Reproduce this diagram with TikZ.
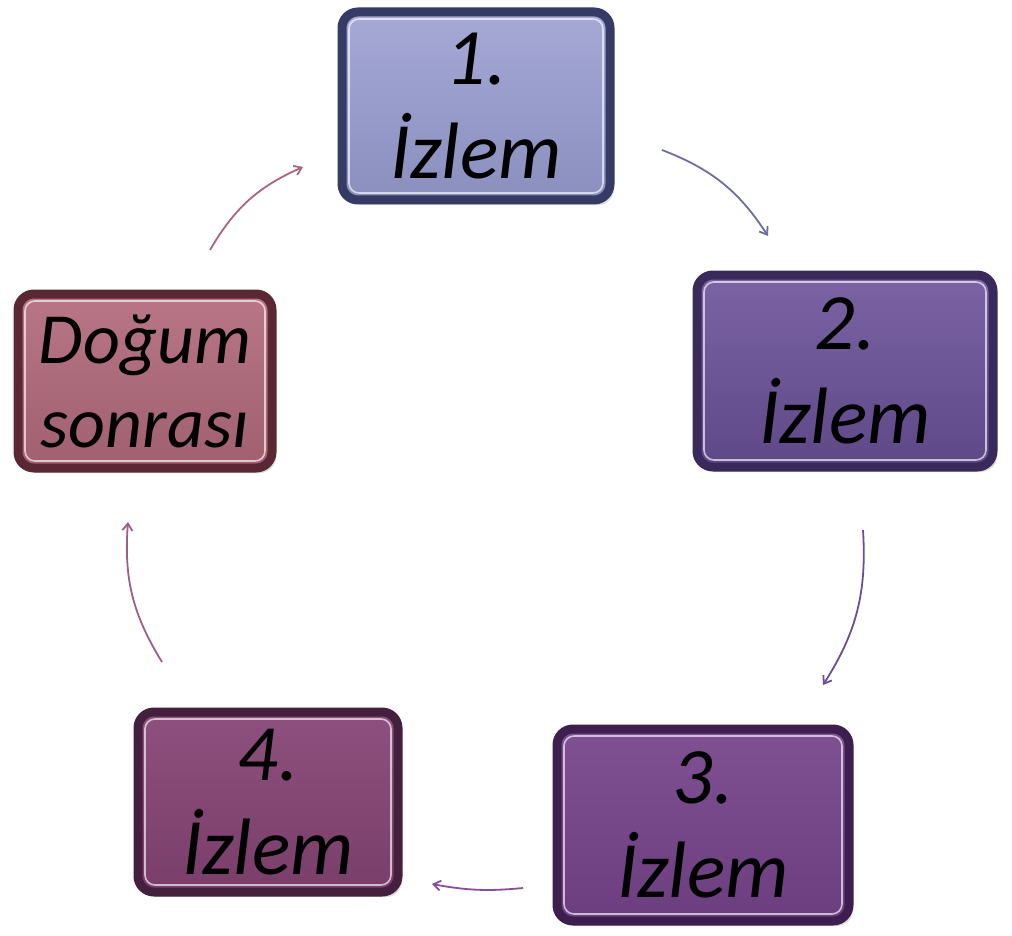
\documentclass[tikz,border=0pt]{standalone}
\usepackage{fontspec}
\setmainfont{Carlito}
\usetikzlibrary{arrows.meta,shadows}
\definecolor{fA}{HTML}{A6A9D6}\definecolor{gA}{HTML}{8A8FBE}\definecolor{dA}{HTML}{363B66}
\definecolor{fB}{HTML}{7C64A4}\definecolor{gB}{HTML}{5E4888}\definecolor{dB}{HTML}{3A2A5C}
\definecolor{fC}{HTML}{7F5092}\definecolor{gC}{HTML}{6C3E80}\definecolor{dC}{HTML}{3C1F4E}
\definecolor{fD}{HTML}{8E507E}\definecolor{gD}{HTML}{7A3E6A}\definecolor{dD}{HTML}{44203E}
\definecolor{fE}{HTML}{B87686}\definecolor{gE}{HTML}{A0606F}\definecolor{dE}{HTML}{5A2834}
\definecolor{aA}{HTML}{6A6EA2}\definecolor{aB}{HTML}{6A4E9C}\definecolor{aC}{HTML}{8A4C9C}
\definecolor{aD}{HTML}{9A6086}\definecolor{aE}{HTML}{A86676}
\tikzset{
  bevel/.style={rounded corners=16pt, line width=9pt, inner sep=0pt, align=center,
    font=\itshape\fontsize{80}{94}\selectfont,
    drop shadow={shadow xshift=4pt, shadow yshift=-5pt, opacity=0.25},
    path picture={\draw[white, opacity=0.65, line width=1.6pt, rounded corners=10pt]
      ([shift={(7pt,-7pt)}]path picture bounding box.north west) rectangle
      ([shift={(-7pt,7pt)}]path picture bounding box.south east);}},
  cyc/.style={line width=1.8pt, -{Straight Barb[length=7pt,width=10pt]}, bend left=18}
}
\begin{document}
\begin{tikzpicture}[x=1pt,y=-1pt]
\useasboundingbox (0,0) rectangle (1012,936);
\node[bevel, draw=dA, top color=fA, bottom color=gA, minimum width=268pt, minimum height=188pt] (b1) at (476,106) {1.\\İzlem};
\node[bevel, draw=dB, top color=fB, bottom color=gB, minimum width=296pt, minimum height=192pt] (b2) at (845,371) {2.\\İzlem};
\node[bevel, draw=dC, top color=fC, bottom color=gC, minimum width=292pt, minimum height=192pt] (b3) at (703,825) {3.\\İzlem};
\node[bevel, draw=dD, top color=fD, bottom color=gD, minimum width=260pt, minimum height=180pt] (b4) at (268,802) {4.\\İzlem};
\node[bevel, draw=dE, top color=fE, bottom color=gE, minimum width=254pt, minimum height=174pt,
  font=\itshape\fontsize{72}{84}\selectfont] (b5) at (145,381) {Doğum\\sonrası};
\coordinate (s1) at (662,150); \coordinate (e1) at (768,236);
\coordinate (s2) at (863,530); \coordinate (e2) at (823,685);
\coordinate (s3) at (523,888); \coordinate (e3) at (432,884);
\coordinate (s4) at (162,662); \coordinate (e4) at (128,522);
\coordinate (s5) at (210,250); \coordinate (e5) at (303,167);
\draw[cyc, aA] (s1) to (e1);
\draw[cyc, aB] (s2) to (e2);
\draw[cyc, aC, bend left=8] (s3) to (e3);
\draw[cyc, aD] (s4) to (e4);
\draw[cyc, aE] (s5) to (e5);
\end{tikzpicture}
\end{document}
